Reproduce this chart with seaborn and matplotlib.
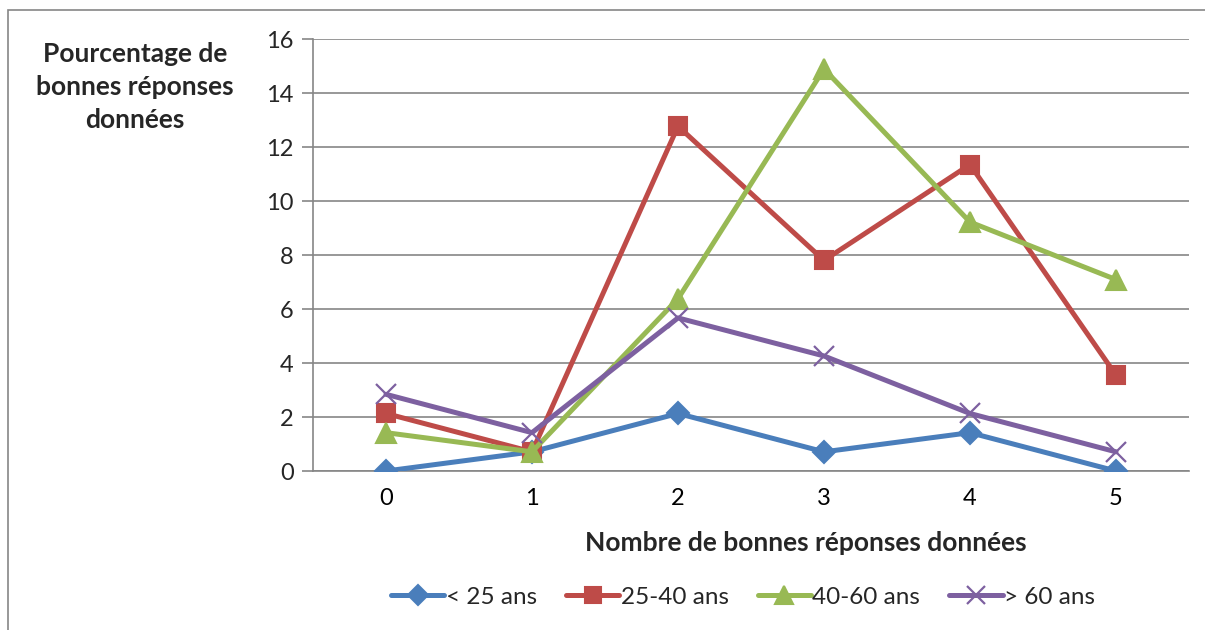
import matplotlib
matplotlib.use("Agg")
import matplotlib.pyplot as plt
import seaborn as sns
import pandas as pd
from matplotlib.patches import Rectangle

categories = [0, 1, 2, 3, 4, 5]
series_names = ["< 25 ans", "25-40 ans", "40-60 ans", "> 60 ans"]
under_25 = [0.0, 0.71, 2.13, 0.71, 1.42, 0.0]
age_25_40 = [2.13, 0.71, 12.77, 7.80, 11.35, 3.55]
age_40_60 = [1.42, 0.71, 6.38, 14.89, 9.22, 7.09]
over_60 = [2.84, 1.42, 5.67, 4.26, 2.13, 0.71]
y_ticks = [0, 2, 4, 6, 8, 10, 12, 14, 16]

sns.set_theme(style="white")
plt.rcParams['font.family'] = ['Lato', 'DejaVu Sans']

rows = []
for name, vals in zip(series_names, [under_25, age_25_40, age_40_60, over_60]):
    for c, v in zip(categories, vals):
        rows.append({"cat": c, "val": v, "serie": name})
df = pd.DataFrame(rows)

colors = {"< 25 ans": "#4A7EBB", "25-40 ans": "#BE4B48",
          "40-60 ans": "#98B954", "> 60 ans": "#7D60A0"}
markers = {"< 25 ans": "D", "25-40 ans": "s", "40-60 ans": "^", "> 60 ans": "x"}
msize = {"< 25 ans": 11, "25-40 ans": 13, "40-60 ans": 15, "> 60 ans": 14}

fig = plt.figure(figsize=(12.05, 6.3), dpi=100)
ax = fig.add_axes([313/1205, 1 - 471/630, (1189-313)/1205, (471-39)/630])

for name in series_names:
    sub = df[df.serie == name]
    sns.lineplot(data=sub, x="cat", y="val", ax=ax, color=colors[name],
                 marker=markers[name], markersize=msize[name], linewidth=3.6,
                 markeredgecolor=colors[name], markeredgewidth=1.5 if markers[name] != "x" else 1.6,
                 label=name, legend=False, zorder=3)

ax.set_xlim(-0.5, 5.5)
ax.set_ylim(0, 16)
ax.set_yticks(y_ticks)
ax.set_yticklabels([str(t) for t in y_ticks], fontsize=17)
ax.set_xticks(categories)
ax.set_xticklabels([str(c) for c in categories], fontsize=17)
ax.set_xticks([i - 0.5 for i in range(7)], minor=True)
ax.tick_params(axis='x', which='major', length=0, pad=12, colors='black')
ax.tick_params(axis='x', which='minor', length=8, width=1.2, color='#868686', direction='out')
ax.tick_params(axis='y', length=8, width=1.2, color='#868686', direction='out', pad=6, left=True)
ax.yaxis.grid(True, color='#868686', linewidth=1.2)
ax.xaxis.grid(False)
for s in ['top', 'right']:
    ax.spines[s].set_visible(False)
for s in ['left', 'bottom']:
    ax.spines[s].set_color('#868686')
    ax.spines[s].set_linewidth(1.2)
ax.set_xlabel("")
ax.set_ylabel("")

fig.text(806/1205, 1 - 543/630, "Nombre de bonnes réponses données",
         ha='center', va='center', fontsize=19, fontweight='bold')
fig.text(135/1205, 1 - 87/630, "Pourcentage de\nbonnes réponses\ndonnées",
         ha='center', va='center', fontsize=19, fontweight='bold', linespacing=1.45)

handles, labels = ax.get_legend_handles_labels()
fig.legend(handles, labels, loc='center', bbox_to_anchor=(743/1205, 1 - 597/630),
           ncol=4, frameon=False, fontsize=17.5, handlelength=2.2, handletextpad=0.05,
           columnspacing=1.2, markerscale=0.9)

fig.patches.append(Rectangle((8/1205, -0.2), 1.2, 1.2 - 10/630, transform=fig.transFigure,
                             fill=False, edgecolor='#868686', linewidth=1.2))

fig.savefig("out.png", dpi=100)
